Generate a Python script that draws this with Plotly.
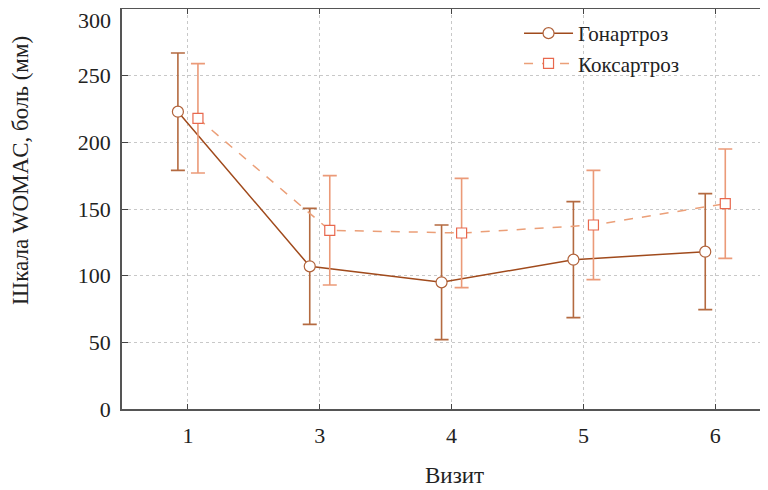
import plotly.graph_objects as go

visits = ["1", "3", "4", "5", "6"]
gon_mean = [223, 107, 95, 112, 118]
gon_err = [44, 43.5, 43, 43.5, 43.5]
kox_mean = [218, 134, 132, 138, 154]
kox_err = [41, 41, 41, 41, 41]
y_ticks = [0, 50, 100, 150, 200, 250, 300]

FONT = "Liberation Serif"
idx = list(range(len(visits)))
off = 0.076

# page has an 8px body margin; figure is sized so that it fills the 768x490 window
W, H = 760, 482
ML, MT, MB = 114, 1, 81
PW, PH = W - ML, H - MT - MB

fig = go.Figure()
fig.add_trace(go.Scatter(
    x=[i - off for i in idx], y=gon_mean, name="Гонартроз",
    mode="lines+markers",
    line=dict(color="#a04a1c", width=1.5),
    marker=dict(symbol="circle", size=11, color="white",
                line=dict(color="#b0623a", width=1.2)),
    error_y=dict(type="data", array=gon_err, visible=True,
                 color="#b46a40", thickness=1.6, width=7),
))
fig.add_trace(go.Scatter(
    x=[i + off for i in idx], y=kox_mean, name="Коксартроз",
    mode="lines+markers",
    line=dict(color="#eb9f78", width=1.5, dash="dash"),
    marker=dict(symbol="square", size=10, color="white",
                line=dict(color="#e8684e", width=1.2)),
    error_y=dict(type="data", array=kox_err, visible=True,
                 color="#eb9a78", thickness=1.6, width=7),
))

ytext = [str(v) for v in y_ticks[:-1]] + [""]

fig.update_layout(
    width=W, height=H,
    margin=dict(l=ML, r=0, t=MT, b=MB, pad=0),
    plot_bgcolor="white", paper_bgcolor="white",
    font=dict(family=FONT, size=22, color="#222"),
    showlegend=True,
    legend=dict(x=0.6146, y=0.99, xanchor="left", yanchor="top",
                bgcolor="rgba(0,0,0,0)", font=dict(size=21, family=FONT),
                itemwidth=49, tracegroupgap=0),
    xaxis=dict(
        range=[-0.5, 4.4], tickvals=idx, ticktext=visits,
        showgrid=True, gridcolor="#c8c8c8", griddash="dot", gridwidth=1,
        showline=True, linecolor="#555", linewidth=1.5, mirror="ticks",
        ticks="inside", ticklen=5, tickcolor="#444", zeroline=False,
        tickfont=dict(size=22, family=FONT), automargin=False,
        ticklabelstandoff=6,
    ),
    yaxis=dict(
        range=[0, 300], tickvals=y_ticks, ticktext=ytext,
        showgrid=True, gridcolor="#c8c8c8", griddash="dot", gridwidth=1,
        showline=True, linecolor="#555", linewidth=1.5,
        ticks="inside", ticklen=6, tickcolor="#444", zeroline=False,
        tickfont=dict(size=22, family=FONT), automargin=False,
        ticklabelstandoff=5,
    ),
    annotations=[
        dict(text=str(y_ticks[-1]), xref="paper", yref="y",
             x=-9 / PW, y=y_ticks[-1], xanchor="right", yanchor="middle",
             yshift=-11, showarrow=False, font=dict(size=22, family=FONT)),
        dict(text="Визит", xref="paper", yref="paper",
             x=(454 - 122) / PW, y=-66 / PH,
             xanchor="center", yanchor="middle",
             showarrow=False, font=dict(size=23, family=FONT)),
        dict(text="Шкала WOMAC, боль (мм)", xref="paper", yref="paper",
             x=-102 / PW, y=(409 - 171) / PH, textangle=-90,
             xanchor="center", yanchor="middle",
             showarrow=False, font=dict(size=23, family=FONT)),
    ],
)

fig.write_html("out.html")
